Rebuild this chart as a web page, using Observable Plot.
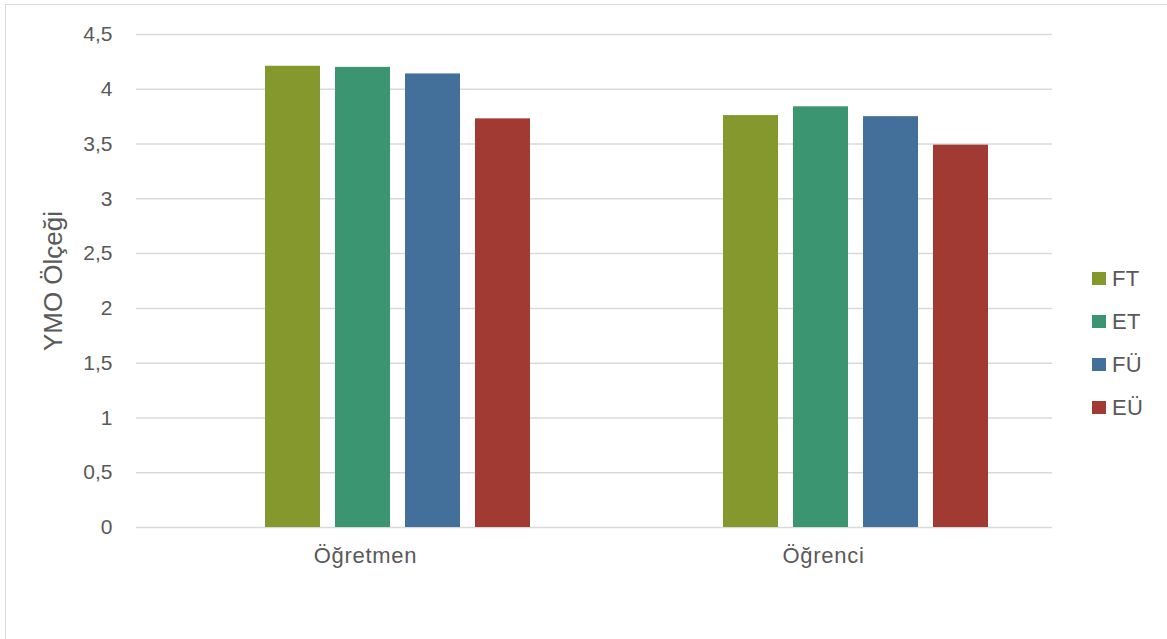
<!DOCTYPE html>
<html>
<head>
<meta charset="utf-8">
<script src="https://cdn.jsdelivr.net/npm/d3@7"></script>
<script src="https://cdn.jsdelivr.net/npm/@observablehq/plot@0.6"></script>
<style>
  body { margin: 0; background: #fff; font-family: "Liberation Sans", Arial, sans-serif; }
  #chart { position: relative; width: 1167px; height: 639px; overflow: hidden; background: #fff; }
  #frame { position: absolute; left: 5px; top: 4px; right: -10px; bottom: -10px;
           border-left: 1.5px solid #d9d9d9; border-top: 1.5px solid #d9d9d9; pointer-events: none; }
  #legend { position: absolute; left: 1092px; top: 257px; color: #595959; font-size: 22px; letter-spacing: 0.4px; }
  #legend .item { display: flex; align-items: center; height: 43px; }
  #legend .swatch { width: 14px; height: 13px; margin-right: 6px; }
</style>
</head>
<body>
<div id="chart"><div id="frame"></div></div>
<script>
// Mean YMO scale scores by respondent group and sub-dimension
const groups = ["Öğretmen", "Öğrenci"];
const series = ["FT", "ET", "FÜ", "EÜ"];
const ogretmenValues = [4.21, 4.20, 4.14, 3.73];
const ogrenciValues = [3.76, 3.84, 3.75, 3.49];
const seriesColors = ["#84982d", "#3b9570", "#436f9b", "#a03a33"];
const yTicks = [0, 0.5, 1, 1.5, 2, 2.5, 3, 3.5, 4, 4.5];
const yLabel = "YMO Ölçeği";

const valuesByGroup = [ogretmenValues, ogrenciValues];
const rows = groups.flatMap((g, gi) =>
  series.map((s, si) => ({ group: g, series: s, value: valuesByGroup[gi][si] }))
);

const decimalComma = d => String(d).replace(".", ",");

const plot = Plot.plot({
  width: 1167,
  height: 639,
  marginLeft: 135,
  marginRight: 115,
  marginTop: 34,
  marginBottom: 112,
  style: { fontFamily: "'Liberation Sans', Arial, sans-serif", color: "#595959", background: "transparent" },
  fx: { domain: groups, padding: 0, label: null },
  x: { domain: series, paddingInner: 0.22, paddingOuter: 1.36, align: 0.665, axis: null },
  y: { domain: [0, 4.5] },
  color: { domain: series, range: seriesColors },
  marks: [
    Plot.gridY(yTicks, { stroke: "#d9d9d9", strokeOpacity: 1, strokeWidth: 1.5 }),
    Plot.barY(rows, { fx: "group", x: "series", y: "value", fill: "series" }),
    Plot.axisY(yTicks, {
      tickSize: 0, tickPadding: 24, tickFormat: decimalComma, fontSize: 21,
      label: yLabel, labelAnchor: "center", labelArrow: "none", labelOffset: 93
    }),
    Plot.axisFx({ anchor: "bottom", tickSize: 0, tickPadding: 20, fontSize: 22, label: null })
  ]
});

document.getElementById("chart").prepend(plot);

// axis title a little larger than the tick labels
d3.select(plot).selectAll('g[aria-label="y-axis label"] text').attr("font-size", 26);
// slightly wider group labels
d3.select(plot).selectAll('g[aria-label="fx-axis tick label"] text').attr("letter-spacing", "0.7px");

// legend
const legend = d3.select("#chart").append("div").attr("id", "legend");
series.forEach((s, i) => {
  const item = legend.append("div").attr("class", "item");
  item.append("div").attr("class", "swatch").style("background", seriesColors[i]);
  item.append("span").text(s);
});
</script>
</body>
</html>
